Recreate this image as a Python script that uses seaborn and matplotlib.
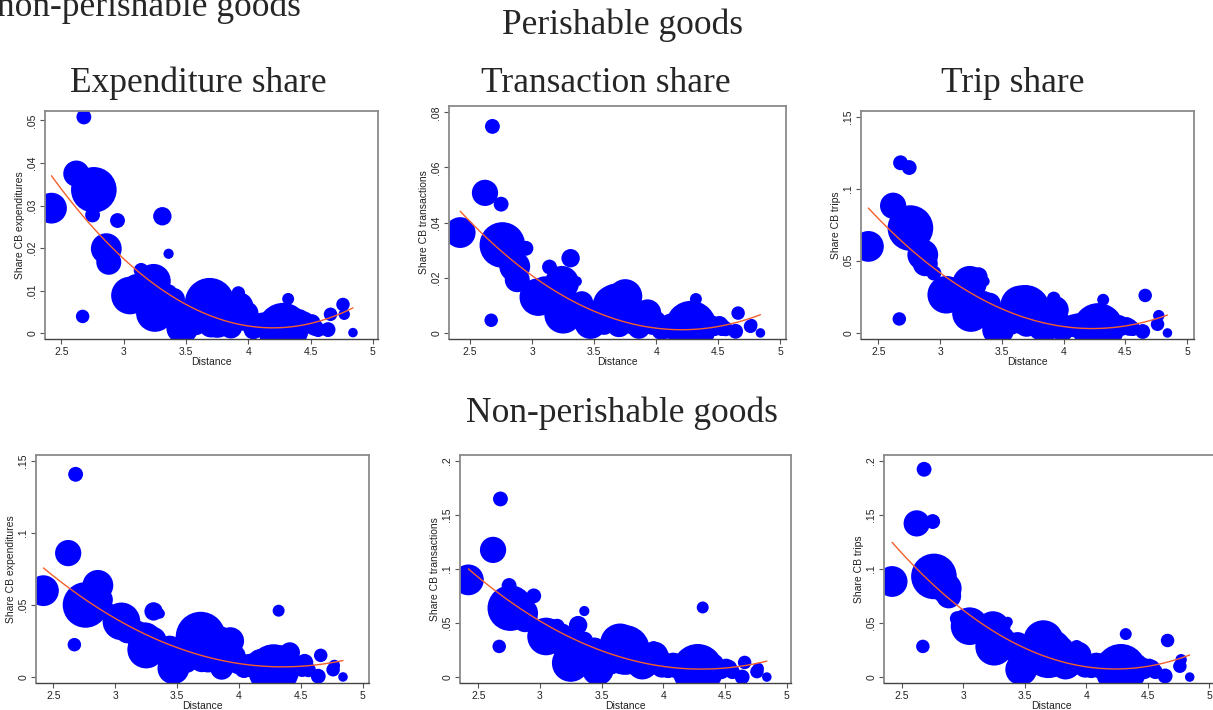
import numpy as np
import pandas as pd
import matplotlib
matplotlib.use("Agg")
import matplotlib.pyplot as plt
import seaborn as sns

# ---------------- data ----------------
distance = [2.42, 2.62, 2.68, 2.67, 2.76, 2.75, 2.86, 2.88, 2.95, 3.05, 3.14, 3.24, 3.25, 3.31,
            3.36, 3.36, 3.47, 3.55, 3.61, 3.69, 3.75, 3.83, 3.88, 3.92, 3.93, 3.99, 4.04, 4.12,
            4.20, 4.28, 4.32, 4.36, 4.41, 4.47, 4.51, 4.56, 4.66, 4.64, 4.76, 4.77, 4.84, 3.40,
            3.18, 3.65, 3.44, 3.52, 3.79, 3.97, 4.08, 4.16, 4.24, 4.45, 3.30, 3.58,
            3.70, 3.86, 4.33, 4.53, 3.20, 3.10]
households = [73, 53, 17, 14, 160, 17, 73, 48, 17, 109, 17, 90, 109, 26, 8, 23, 78, 63, 48, 190,
              90, 73, 40, 14, 58, 40, 29, 48, 63, 200, 11, 40, 32, 23, 23, 17, 14, 17, 14, 10, 7,
              40, 32, 123, 48, 40, 58, 32, 40, 32, 48, 26, 63, 32,
              48, 40, 63, 23, 40, 48]

perish_exp = [.0294, .0375, .0508, .0040, .0337, .0278, .0199, .0167, .0265, .0089, .0148, .0123,
              .0048, .0275, .0187, .0095, .0013, .0040, .0050, .0072, .0030, .0033, .0060, .0095,
              .0064, .0048, .0009, .0020, .0015, .0012, .0081, .0025, .0033, .0020, .0025, .0009,
              .0045, .0009, .0068, .0045, .0002, .0080, .0100, .0060, .0050, .0030, .0050, .0030,
              .0020, .0025, .0020, .0030, .0080, .0020,
              .0020, .0015, .0030, .0015, .0060, .0110]
perish_trans = [.0364, .0508, .0749, .0046, .0319, .0467, .0241, .0193, .0307, .0130, .0239, .0181,
                .0066, .0271, .0187, .0108, .0036, .0072, .0108, .0090, .0133, .0048, .0060, .0050,
                .0072, .0040, .0010, .0025, .0020, .0024, .0123, .0025, .0030, .0020, .0030, .0015,
                .0072, .0006, .0024, .0030, .0000, .0110, .0150, .0100, .0060, .0040, .0080, .0030,
                .0020, .0030, .0020, .0030, .0100, .0030,
                .0030, .0020, .0035, .0020, .0100, .0160]
perish_trips = [.060, .0882, .118, .0097, .0727, .1147, .0542, .048, .0415, .0265, .023, .0346,
                .0138, .0392, .0358, .023, .0023, .0092, .0185, .016, .014, .005, .003, .024,
                .016, .002, .004, .005, .006, .003, .023, .006, .005, .004, .005, .003,
                .026, .001, .006, .012, .000, .020, .025, .019, .012, .008, .012, .008,
                .005, .006, .005, .006, .020, .006,
                .006, .004, .007, .004, .018, .030]
nonper_exp = [.0599, .086, .1407, .0224, .050, .047, .0636, .0536, .046, .0386, .031, .026,
              .019, .0455, .044, .022, .006, .018, .022, .028, .015, .025, .012, .029,
              .025, .010, .006, .008, .010, .005, .046, .010, .017, .008, .006, .005,
              .015, .0005, .005, .008, .000, .020, .032, .027, .020, .012, .018, .015,
              .008, .012, .010, .009, .025, .010,
              .012, .006, .012, .010, .022, .032]
nonper_trans = [.0898, .1175, .1646, .0283, .0637, .0846, .059, .053, .075, .0375, .047, .028,
                .013, .048, .061, .034, .007, .015, .025, .025, .024, .012, .015, .027,
                .020, .010, .008, .010, .008, .007, .0643, .010, .012, .006, .009, .005,
                .0135, .000, .005, .008, .000, .025, .040, .031, .025, .015, .022, .018,
                .012, .010, .012, .008, .030, .012,
                .015, .010, .012, .008, .030, .042]
nonper_trips = [.0883, .142, .192, .0283, .093, .1437, .082, .075, .054, .047, .038, .045,
                .028, .048, .051, .035, .007, .015, .028, .022, .019, .012, .015, .028,
                .020, .010, .008, .010, .008, .007, .0397, .010, .012, .006, .009, .005,
                .0338, .001, .010, .016, .000, .025, .040, .034, .030, .018, .025, .015,
                .012, .014, .012, .010, .035, .014,
                .015, .010, .015, .008, .030, .042]

# quadratic-fit curve, read at a few distances
fit_x = [2.42, 3.0, 3.5, 4.0, 4.3, 4.84]
fit_perish_exp = [.0370, .0175, .0068, .0018, .0014, .0060]
fit_perish_trans = [.0442, .0206, .0080, .0017, .0013, .0066]
fit_perish_trips = [.0866, .0415, .0170, .0044, .0030, .0125]
fit_nonper_exp = [.0756, .0408, .0204, .0093, .0069, .0115]
fit_nonper_trans = [.100, .0512, .0255, .0095, .0068, .0150]
fit_nonper_trips = [.125, .0600, .0280, .0100, .0068, .0205]

x_ticks = [2.5, 3, 3.5, 4, 4.5, 5]
x_ticklabels = ["2.5", "3", "3.5", "4", "4.5", "5"]
yt_perish_exp = [0, .01, .02, .03, .04, .05]
yl_perish_exp = ["0", ".01", ".02", ".03", ".04", ".05"]
yt_perish_trans = [0, .02, .04, .06, .08]
yl_perish_trans = ["0", ".02", ".04", ".06", ".08"]
yt_15 = [0, .05, .1, .15]
yl_15 = ["0", ".05", ".1", ".15"]
yt_20 = [0, .05, .1, .15, .2]
yl_20 = ["0", ".05", ".1", ".15", ".2"]

col_titles = ["Expenditure share", "Transaction share", "Trip share"]
ylabels = ["Share CB expenditures", "Share CB transactions", "Share CB trips"]

# ---------------- figure ----------------
sns.set_style("white")
plt.rcParams["font.family"] = ["Liberation Sans", "DejaVu Sans"]

W, H = 1213, 710
fig = plt.figure(figsize=(W / 100, H / 100), dpi=100)

def rect(l, t, r, b):
    return [l / W, 1 - b / H, (r - l) / W, (b - t) / H]

df = pd.DataFrame({"distance": distance, "households": households,
                   "perish_exp": perish_exp, "perish_trans": perish_trans,
                   "perish_trips": perish_trips, "nonper_exp": nonper_exp,
                   "nonper_trans": nonper_trans, "nonper_trips": nonper_trips})

panels = [
    ("perish_exp", fit_perish_exp, rect(45, 111, 378, 339), (2.368, 5.041), (-0.0013, 0.0522), yt_perish_exp, yl_perish_exp, 0),
    ("perish_trans", fit_perish_trans, rect(449, 106, 786, 339), (2.33, 5.046), (-0.0022, 0.0823), yt_perish_trans, yl_perish_trans, 1),
    ("perish_trips", fit_perish_trips, rect(861, 111, 1194, 339), (2.36, 5.055), (-0.0042, 0.1539), yt_15, yl_15, 2),
    ("nonper_exp", fit_nonper_exp, rect(36, 455, 369, 683), (2.36, 5.05), (-0.0042, 0.1541), yt_15, yl_15, 0),
    ("nonper_trans", fit_nonper_trans, rect(460, 455, 791, 683), (2.352, 5.036), (-0.0055, 0.2052), yt_20, yl_20, 1),
    ("nonper_trips", fit_nonper_trips, rect(884, 455, 1218, 683), (2.354, 5.07), (-0.0055, 0.2052), yt_20, yl_20, 2),
]

wmax = 250
smax = 1.3 * (0.72 * 50) ** 2

for col, fit_y, r, xl, yl, yt, ytl, k in panels:
    ax = fig.add_axes(r)
    sns.scatterplot(data=df, x="distance", y=col, size="households",
                    sizes=(0, smax), size_norm=(0, wmax), color="#0000ff",
                    linewidth=0, legend=False, ax=ax, zorder=2)
    sns.regplot(x=np.array(fit_x), y=np.array(fit_y), order=2, scatter=False,
                ci=None, truncate=True, ax=ax,
                line_kws=dict(color="#f4602c", lw=1.0, zorder=5))
    ax.set_xlim(*xl)
    ax.set_ylim(*yl)
    ax.set_xticks(x_ticks)
    ax.set_xticklabels(x_ticklabels, fontsize=7.5)
    ax.set_yticks(yt)
    ax.set_yticklabels(ytl, fontsize=7.5, rotation=90, va="center")
    ax.tick_params(axis="both", direction="out", length=3.5, width=0.8,
                   color="#555555", pad=2, labelcolor="#222222")
    ax.tick_params(left=True, bottom=True)
    ax.set_xlabel("Distance", fontsize=7.5, labelpad=0, color="#222222")
    ax.set_ylabel(ylabels[k], fontsize=7.5, labelpad=2, color="#222222")
    for side, sp in ax.spines.items():
        sp.set_visible(True)
        sp.set_color("#8a8a8a")
        sp.set_linewidth(1.3)
    ax.spines["bottom"].set_color("#444444")
    ax.spines["bottom"].set_linewidth(1.0)

serif = ["Liberation Serif", "DejaVu Serif"]
tsize = 25.5
for k, cx in enumerate([198, 606, 1013]):
    fig.text(cx / W, 1 - 83 / H, col_titles[k], ha="center", va="center",
             fontsize=tsize, family=serif)
fig.text(622 / W, 1 - 25 / H, "Perishable goods", ha="center", va="center",
         fontsize=tsize, family=serif)
fig.text(622 / W, 1 - 413 / H, "Non-perishable goods", ha="center", va="center",
         fontsize=tsize, family=serif)
fig.text(-3 / W, 1 - 16 / H, "non-perishable goods", ha="left", va="baseline",
         fontsize=tsize, family=serif)

fig.savefig("out.png", dpi=100, facecolor="white")
